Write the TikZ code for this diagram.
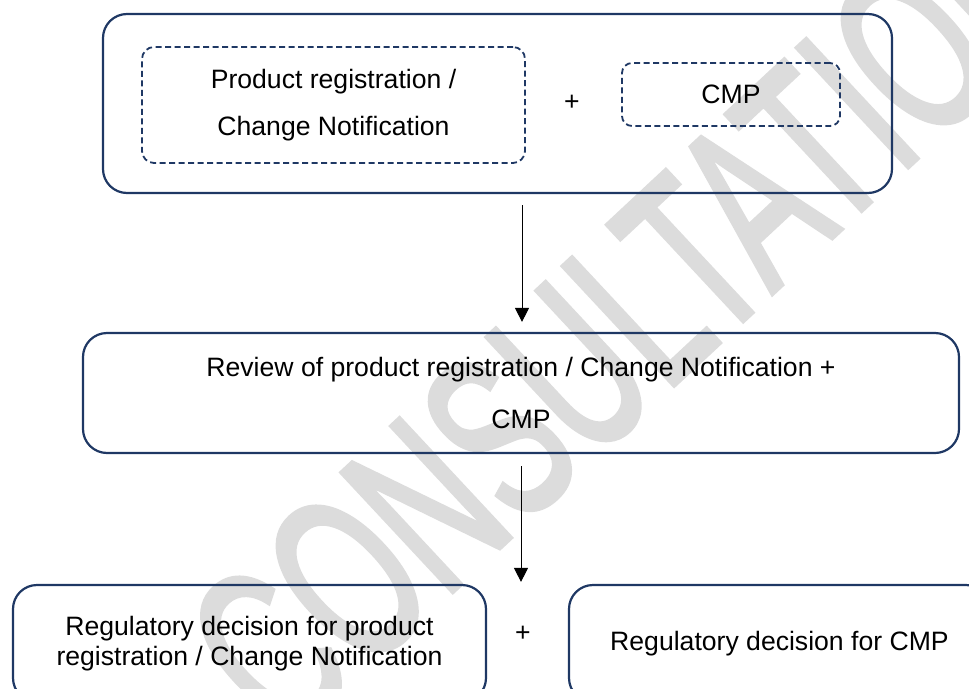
\documentclass[tikz,border=0pt]{standalone}
\usepackage{fontspec}
\setmainfont{Liberation Sans}
\newfontfamily\wmfont[FakeBold=2.5]{Liberation Sans}
\usetikzlibrary{arrows.meta,calc}
\definecolor{navy}{HTML}{1F3864}
\definecolor{wmgray}{HTML}{DCDCDC}
\begin{document}
\begin{tikzpicture}[x=1pt,y=-1pt,
  solidbox/.style={draw=navy, line width=2.2pt, rounded corners=24pt},
  dashbox/.style={draw=navy, line width=1.8pt, dash pattern=on 6pt off 3.5pt, rounded corners=12pt},
  lbl/.style={font=\fontsize{26.6}{30}\selectfont, align=center, text=black, inner sep=0pt},
  arr/.style={-{Triangle[width=14pt,length=14pt]}, line width=1pt, draw=black}]
\useasboundingbox (0,0) rectangle (969,688);
% watermark
\begin{scope}[shift={(630,315)}]
\node[rotate=43, xscale=0.61, text=wmgray, inner sep=0pt, font=\wmfont\fontsize{235}{235}\selectfont] (wmk) at (0,0) {CONSULTATION};
\end{scope}
% top group
\node[solidbox, minimum width=789pt, minimum height=179pt] (outer) at (497.5,103.5) {};
\node[dashbox, lbl, minimum width=383pt, minimum height=116pt, font=\fontsize{26.6}{46.6}\selectfont] (prod) at (333.5,105) {Product registration /\\Change Notification};
\node[lbl] (plustop) at (572,103) {+};
\node[dashbox, lbl, rounded corners=10pt, minimum width=218pt, minimum height=63pt] (cmp) at (731,94.5) {CMP};
% review
\node[solidbox, lbl, minimum width=876pt, minimum height=120pt, font=\fontsize{26.6}{52}\selectfont] (review) at (521,393) {Review of product registration / Change Notification +\\CMP};
% bottom
\node[solidbox, lbl, minimum width=473pt, minimum height=117pt, font=\fontsize{26.6}{29.5}\selectfont] (regprod) at (249.5,643.5) {Regulatory decision for product\\registration / Change Notification};
\node[lbl] (plusbot) at (523,634) {+};
\node[solidbox, lbl, minimum width=421pt, minimum height=117pt] (regcmp) at (779.5,643.5) {Regulatory decision for CMP};
% arrows
\coordinate (tip2) at ($(review.south |- regprod.north)+(0,-2)$);
\draw[arr] ([shift={(24.5,11)}]outer.south) -- ([shift={(1,-10)}]review.north);
\draw[arr] ([shift={(0,12)}]review.south) -- (tip2);
\end{tikzpicture}
\end{document}
